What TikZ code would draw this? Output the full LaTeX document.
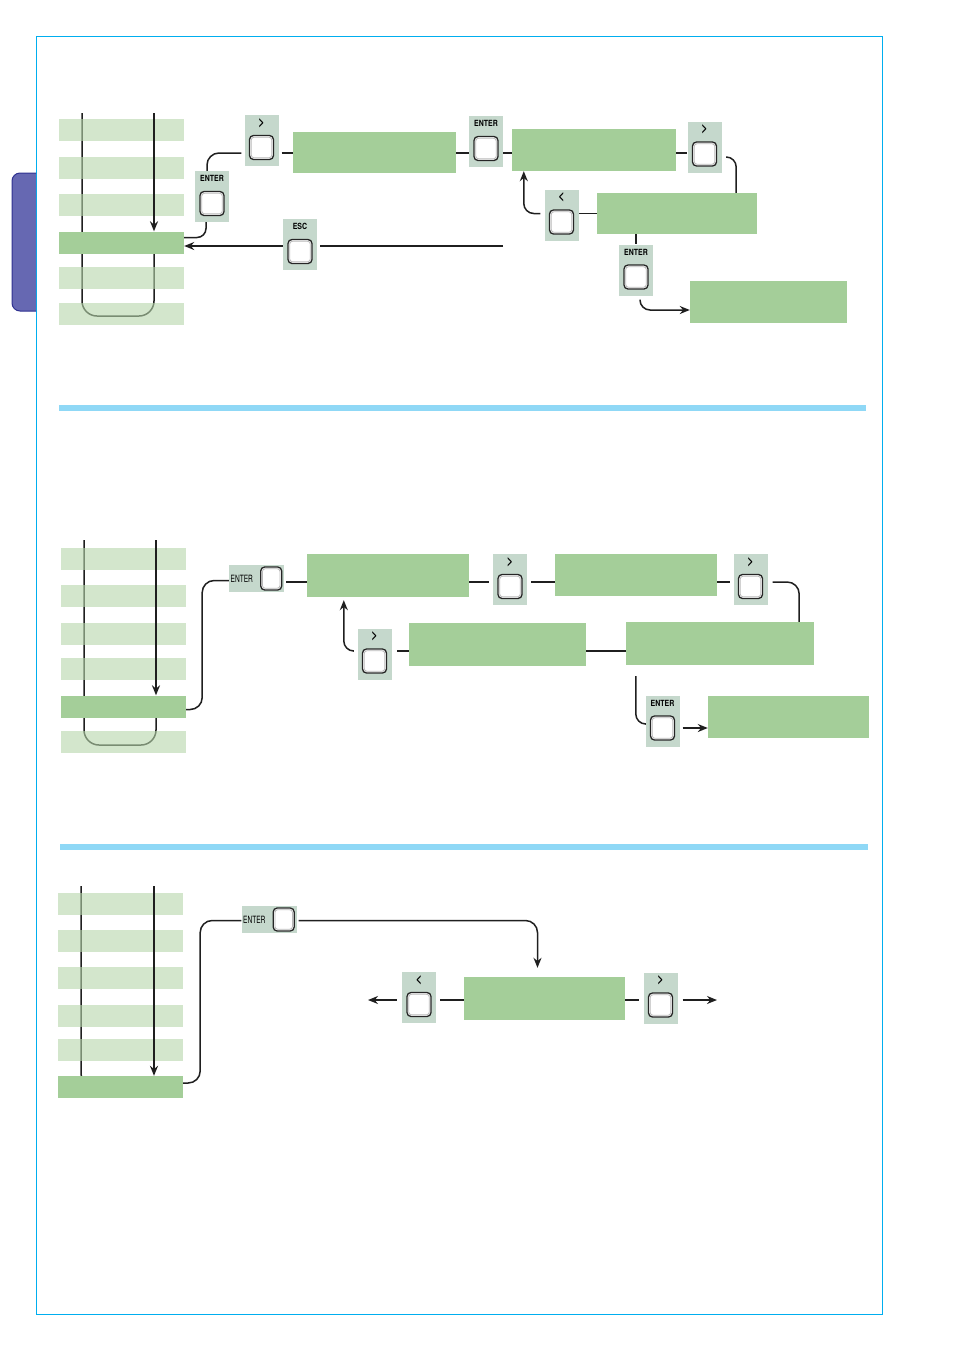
\documentclass[tikz,border=0pt]{standalone}
\usepackage{fontspec}
\setsansfont{TeX Gyre Heros}
\newfontfamily\keyfont[FakeStretch=0.82]{TeX Gyre Heros}
\newfontfamily\keyfontn[FakeStretch=0.66]{TeX Gyre Heros}
\usetikzlibrary{arrows.meta,positioning,calc}
\definecolor{framecyan}{RGB}{0,174,239}
\definecolor{rulecyan}{RGB}{143,216,246}
\definecolor{menulight}{RGB}{181,213,170}
\definecolor{selgreen}{RGB}{164,206,153}
\definecolor{keygrey}{RGB}{197,216,204}
\definecolor{tabblue}{RGB}{102,104,178}
\definecolor{tabedge}{RGB}{48,50,145}

% upright key: name, centre, label
\newcommand{\vkey}[3]{%
  \node[keybox] (#1) at (#2) {};
  \node[keylbl] at ([yshift=-8]#1.north) {#3};
  \node[keysq] (#1k) at ([yshift=-7]#1.center) {};
}
% flat key with ENTER written beside it
\newcommand{\hkey}[2]{%
  \node[hkeybox] (#1) at (#2) {};
  \node[hkeylbl] at ([xshift=13]#1.west) {ENTER};
  \node[keysq, minimum width=21, minimum height=23] (#1k) at ([xshift=-13]#1.east) {};
}
\newcommand{\chev}[1]{{\fontsize{13}{13}\selectfont#1}}

\begin{document}
\begin{tikzpicture}[x=1pt,y=-1pt,
    conn/.style={line width=1.5pt, draw=black!88},
    arr/.style={conn, -{Stealth[length=10pt,width=8pt]}},
    menu/.style={fill=menulight, fill opacity=0.6, minimum width=125, minimum height=22, inner sep=0},
    selbar/.style={fill=selgreen, minimum width=125, minimum height=22, inner sep=0},
    disp/.style={fill=selgreen, inner sep=0},
    keybox/.style={fill=keygrey, minimum width=34, minimum height=51, inner sep=0},
    hkeybox/.style={fill=keygrey, minimum width=55, minimum height=27, inner sep=0},
    keylbl/.style={font=\keyfont\bfseries\fontsize{8.5}{8.5}\selectfont, inner sep=0},
    hkeylbl/.style={font=\keyfontn\fontsize{10}{10}\selectfont, inner sep=0},
    keysq/.style={draw=black!85, line width=1.3pt, fill=white, rounded corners=4pt,
      minimum size=24, inner sep=0,
      path picture={\draw[gray!55, line width=0.8pt, rounded corners=2.5pt]
        ([shift={(1.8pt,1.8pt)}]path picture bounding box.south west) rectangle
        ([shift={(-1.8pt,-1.8pt)}]path picture bounding box.north east);}}]
  \useasboundingbox (0,0) rectangle (954,1350);

  % page frame and side tab
  \draw[framecyan, line width=1pt] (36,36) rectangle (882,1314);
  \fill[tabblue] (36,173) -- (20,173) arc (270:180:8) -- (12,303) arc (180:90:8) -- (36,311) -- cycle;
  \draw[tabedge, line width=1pt] (36,173) -- (20,173) arc (270:180:8) -- (12,303) arc (180:90:8) -- (36,311);
  \fill[rulecyan] (59,405) rectangle (866,411);
  \fill[rulecyan] (60,844) rectangle (868,850);

  %%% first block
  \coordinate (a1top) at (154,113);
  \coordinate (a1row) at (0,153);
  \coordinate (a1free) at (503,246);
  \draw[conn, rounded corners=15] (154,250) -- (154,316) -- (82,316) -- (82,113);
  \foreach \y/\s [count=\i] in {129.5/menu,167.5/menu,204.5/menu,242.5/selbar,277.5/menu,313.5/menu}
    \node[\s] (a1m\i) at (121.5,\y) {};
  \draw[arr] (a1top) -- (a1top |- a1m4.north);

  \node[disp, minimum width=163, minimum height=41] (a1d1) at (374.5,152.5) {};
  \node[disp, minimum width=164, minimum height=42] (a1d2) at (594,150) {};
  \node[disp, minimum width=160, minimum height=41] (a1d3) at (677,213.5) {};
  \node[disp, minimum width=157, minimum height=42] (a1d4) at (768.5,302) {};

  \vkey{a1gt}{261.5,140.5}{\chev{>}}
  \vkey{a1ent}{212,196.5}{ENTER}
  \vkey{a1esc}{300,244.5}{ESC}
  \vkey{a1en2}{486,141.5}{ENTER}
  \vkey{a1gt2}{704.5,147}{\chev{>}}
  \vkey{a1lt}{561.5,215}{\chev{<}}
  \vkey{a1en3}{636,270}{ENTER}

  \draw[conn, rounded corners=9] ([yshift=5]a1m4.east) -| ([xshift=-6]a1ent.south);
  \draw[conn, rounded corners=12] ([xshift=-5]a1ent.north) |- ([xshift=-3]a1gt.west |- a1row);
  \draw[conn] ([xshift=3]a1gt.east |- a1row) -- (a1d1.west |- a1row);
  \draw[conn] (a1d1.east |- a1row) -- (a1en2.west |- a1row);
  \draw[conn] (a1en2.east |- a1row) -- (a1d2.west |- a1row);
  \draw[conn] (a1d2.east |- a1row) -- (a1gt2.west |- a1row);
  \draw[conn, rounded corners=10] ([xshift=6,yshift=-4]a1gt2.east |- a1row) -| ([xshift=-21]a1d3.north east);
  \draw[conn] (a1d3.west) -- (a1lt.east |- a1d3.west);
  \draw[arr, rounded corners=10] ([xshift=-4]a1lt.west |- a1d3.west) -| ([xshift=12]a1d2.south west);
  \draw[conn] (a1d3.south -| a1en3) -- (a1en3.north);
  \draw[arr, rounded corners=10] ([xshift=4,yshift=-4]a1en3.south) |- ([yshift=-8]a1d4.west);
  \draw[conn] (a1free) -- ([xshift=3]a1esc.east |- a1free);
  \draw[arr] (a1esc.west |- a1free) -- (a1m4.east |- a1free);

  %%% second block
  \coordinate (a2top) at (156,540);
  \coordinate (a2row) at (0,582);
  \coordinate (a2row2) at (0,651);
  \draw[conn, rounded corners=15] (156,712) -- (156,745) -- (84,745) -- (84,540);
  \foreach \y/\s [count=\i] in {559/menu,596/menu,634/menu,669/menu,706.5/selbar,742/menu}
    \node[\s] (a2m\i) at (123.5,\y) {};
  \draw[arr] (a2top) -- (a2top |- a2m5.north);

  \node[disp, minimum width=162, minimum height=43] (a2d5) at (388,575.5) {};
  \node[disp, minimum width=162, minimum height=42] (a2d6) at (636,575) {};
  \node[disp, minimum width=188, minimum height=43] (a2d7) at (720,643.5) {};
  \node[disp, minimum width=177, minimum height=43] (a2d8) at (497.5,644.5) {};
  \node[disp, minimum width=161, minimum height=42] (a2d9) at (788.5,717) {};

  \hkey{a2ent}{256.5,578.5}
  \vkey{a2gta}{510,579.5}{\chev{>}}
  \vkey{a2gtb}{750.5,579.5}{\chev{>}}
  \vkey{a2gtc}{374.5,654}{\chev{>}}
  \vkey{a2en}{662.5,721}{ENTER}

  \draw[conn, rounded corners=12] ([yshift=-3]a2m5.east) -- ++(16,0) |- ([yshift=-2]a2ent.west);
  \draw[conn] ([xshift=2]a2ent.east |- a2row) -- (a2d5.west |- a2row);
  \draw[conn] (a2d5.east |- a2row) -- ([xshift=-4]a2gta.west |- a2row);
  \draw[conn] ([xshift=4]a2gta.east |- a2row) -- (a2d6.west |- a2row);
  \draw[conn] (a2d6.east |- a2row) -- ([xshift=-3]a2gtb.west |- a2row);
  \draw[conn, rounded corners=12] ([xshift=5]a2gtb.east |- a2row) -| ([xshift=-15]a2d7.north east);
  \draw[conn] (a2d8.east |- a2row2) -- (a2d7.west |- a2row2);
  \draw[conn] (a2d8.west |- a2row2) -- ([xshift=5]a2gtc.east |- a2row2);
  \draw[arr, rounded corners=10, shorten >=3pt] ([xshift=-4]a2gtc.west |- a2row2) -| ([xshift=37]a2d5.south west);
  \draw[conn, rounded corners=10] ([xshift=10,yshift=-11]a2d7.south west) |- ([yshift=-3]a2en.west);
  \draw[arr] ([xshift=3]a2en.east |- a2enk) -- (a2d9.west |- a2enk);

  %%% third block
  \coordinate (a3top) at (154,886);
  \coordinate (a3row) at (0,1000);
  \coordinate (a3outl) at (368,1000);
  \coordinate (a3outr) at (717,1000);
  \draw[conn, rounded corners=10] (81,886) -- (81,1084) -- (100,1084);
  \foreach \y/\s [count=\i] in {904/menu,941/menu,978/menu,1016/menu,1050/menu,1087/selbar}
    \node[\s] (a3m\i) at (120.5,\y) {};
  \draw[arr] (a3top) -- (a3top |- a3m6.north);

  \node[disp, minimum width=161, minimum height=43] (a3d10) at (544.5,998.5) {};
  \hkey{a3ent}{269,919.5}
  \vkey{a3lt}{419,997.5}{\chev{<}}
  \vkey{a3gt}{660.5,998}{\chev{>}}

  \draw[conn, rounded corners=12] ([yshift=4]a3m6.east) -- ++(17,0) |- ([yshift=-1]a3ent.west);
  \draw[arr, rounded corners=12, shorten >=9pt] ([xshift=2,yshift=-1]a3ent.east) -| ([xshift=-7]a3d10.north);
  \draw[conn] (a3d10.west |- a3row) -- ([xshift=4]a3lt.east |- a3row);
  \draw[conn] (a3d10.east |- a3row) -- ([xshift=-4]a3gt.west |- a3row);
  \draw[arr] ([xshift=-5]a3lt.west |- a3row) -- (a3outl);
  \draw[arr] ([xshift=5]a3gt.east |- a3row) -- (a3outr);
\end{tikzpicture}
\end{document}
